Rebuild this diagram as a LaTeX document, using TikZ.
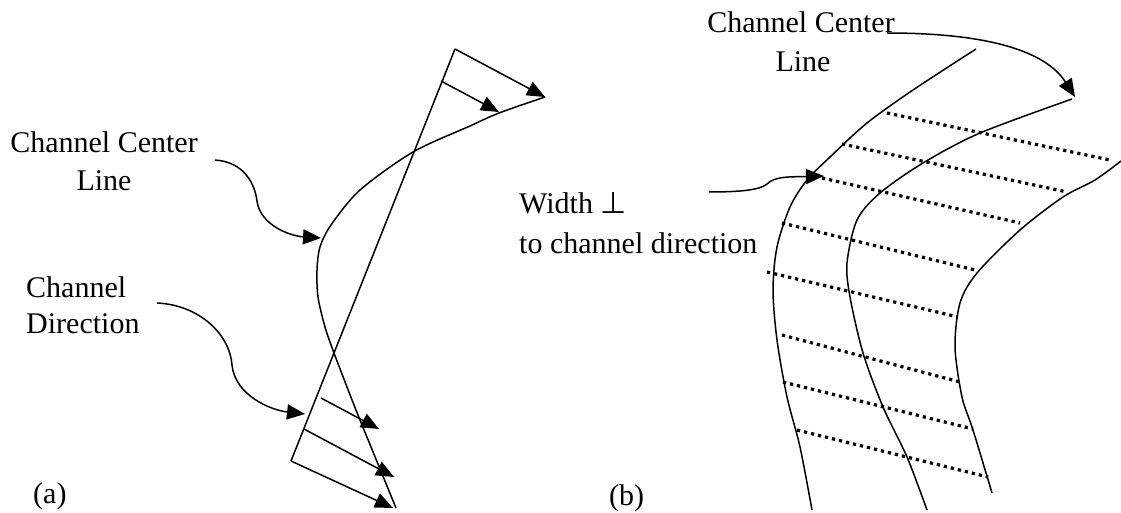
\documentclass[tikz,border=0pt]{standalone}
\usepackage{fontspec}
\setmainfont{Liberation Serif}
\newfontfamily\symfnt{DejaVu Sans}
\usetikzlibrary{arrows.meta}
\begin{document}
\begin{tikzpicture}[x=1pt,y=-1pt,
  line/.style={line width=1.5pt, line join=round},
  arr/.style={line, -{Triangle[length=18pt,width=15pt]}},
  dots/.style={line width=3.2pt, dash pattern=on 3.2pt off 4pt},
  lbl/.style={inner sep=0pt, font=\fontsize{30}{36}\selectfont}]
\useasboundingbox (0,0) rectangle (1121,513);

% ---------- (a) ----------
\node[lbl, anchor=base] (ccla1) at (104,153) {Channel Center};
\node[lbl, anchor=base] (ccla2) at (104,191) {Line};
\node[lbl, anchor=base west] (cda1) at (26,297) {Channel};
\node[lbl, anchor=base west] (cda2) at (26,333) {Direction};
\node[lbl, anchor=base west] (la) at (33,503) {(a)};

\coordinate (ta) at (455,49);
\coordinate (ba) at (291,461);
\draw[line] (ta) -- (ba);

\draw[line] plot[smooth, tension=0.5] coordinates {(545,97) (499,113) (470,126) (413,152) (360,190) (331,225) (320,247) (317,270) (318,297) (325,327) (334,353) (347,387) (360,420) (396,508)};

\coordinate (a1s) at (441,81);   \coordinate (a1e) at (499,112);
\coordinate (a0e) at (545,97);
\coordinate (a2s) at (321,398);  \coordinate (a2e) at (379,429);
\coordinate (a3s) at (304,429);  \coordinate (a3e) at (394,477);
\coordinate (a4e) at (393,508);
\draw[arr] (ta) -- (a0e);
\draw[arr] (a1s) -- (a1e);
\draw[arr] (a2s) -- (a2e);
\draw[arr] (a3s) -- (a3e);
\draw[arr] (ba) -- (a4e);

\coordinate (c1s) at (215,160); \coordinate (c1e) at (321,238);
\draw[arr] (c1s) .. controls (245,162) and (255,185) .. (257,201) .. controls (260,225) and (290,236) .. (c1e);
\coordinate (c2s) at (157,303); \coordinate (c2e) at (305,414);
\draw[arr] (c2s) .. controls (200,305) and (230,335) .. (232,365) .. controls (235,395) and (270,410) .. (c2e);

% ---------- (b) ----------
\node[lbl, anchor=base] (cclb1) at (801,33) {Channel Center};
\node[lbl, anchor=base] (cclb2) at (803,72) {Line};
\node[lbl, anchor=base west] (wb1) at (519,214) {Width {\symfnt ⊥}};
\node[lbl, anchor=base west] (wb2) at (519,253) {to channel direction};
\node[lbl, anchor=base west] (lb) at (609,505) {(b)};

\draw[line] plot[smooth, tension=0.5] coordinates {(976,49) (913,90) (867,123) (830,157) (807,180) (790,207) (777,247) (773,290) (777,340) (787,397) (800,447) (812,510)};
\draw[line] plot[smooth, tension=0.5] coordinates {(1072,99) (980,133) (923,163) (880,193) (857,220) (847,263) (850,297) (863,353) (883,407) (907,457) (927,510)};
\draw[line] plot[smooth, tension=0.5] coordinates {(1121,161) (1095,180) (1063,197) (1020,230) (977,273) (960,303) (955,347) (962,397) (973,430) (992,493)};

\draw[dots] (887,113) -- (1110,160);
\draw[dots] (842,144) -- (1067,192);
\draw[dots] (822,178) -- (1020,223);
\draw[dots] (782,223) -- (975,270);
\draw[dots] (767,272) -- (958,317);
\draw[dots] (782,335) -- (960,382);
\draw[dots] (783,382) -- (973,429);
\draw[dots] (797,430) -- (988,477);

\coordinate (d1s) at (887,33); \coordinate (d1e) at (1075,97);
\draw[arr] (d1s) .. controls (985,33) and (1045,50) .. (d1e);
\coordinate (d2s) at (709,192); \coordinate (d2e) at (824,176);
\draw[arr] (d2s) .. controls (740,192) and (760,190) .. (767,184) .. controls (775,176) and (790,177) .. (d2e);
\end{tikzpicture}
\end{document}
